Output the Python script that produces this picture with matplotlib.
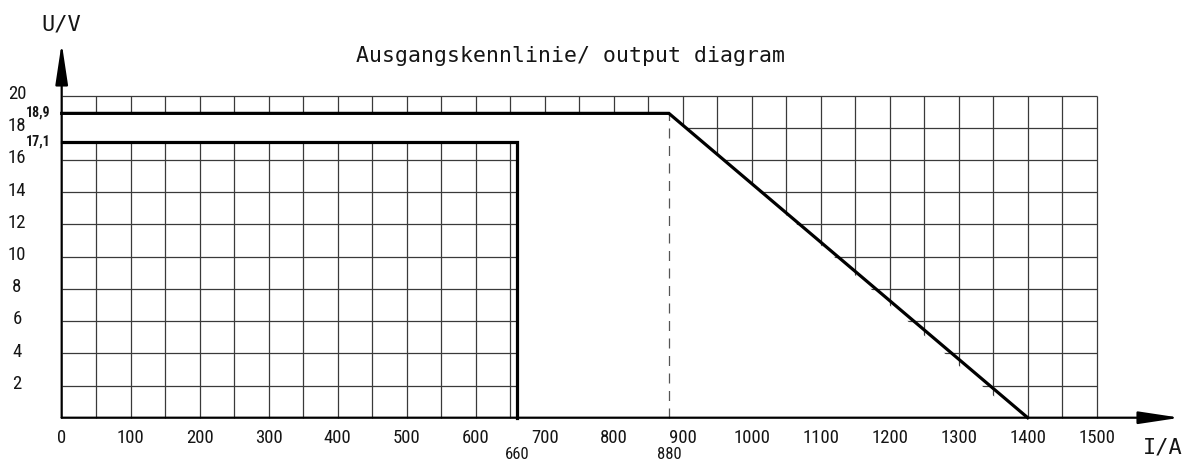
import matplotlib
matplotlib.use("Agg")
import matplotlib.pyplot as plt
from matplotlib import font_manager
from matplotlib.path import Path
from matplotlib.patches import PathPatch

# ---------------- data ----------------
x_tick_values = [0, 100, 200, 300, 400, 500, 600, 700, 800, 900, 1000, 1100, 1200, 1300, 1400, 1500]
y_tick_values = [2, 4, 6, 8, 10, 12, 14, 16, 18, 20]
grid_x = [50 * i for i in range(1, 31)]
grid_y = [2 * i for i in range(1, 11)]

low_curve_x = [0, 660, 660]
low_curve_y = [17.1, 17.1, 0]
high_curve_x = [0, 880, 1400]
high_curve_y = [18.9, 18.9, 0]

voltage_marks = [18.9, 17.1]
voltage_mark_labels = ["18,9", "17,1"]
current_marks = [660, 880]
current_mark_labels = ["660", "880"]

title = "Ausgangskennlinie/ output diagram"
y_label = "U/V"
x_label = "I/A"

# ---------------- fonts ----------------
names = {f.name for f in font_manager.fontManager.ttflist}
narrow = None
for cand in ["Roboto Condensed", "Liberation Sans Narrow", "DejaVu Sans Condensed",
             "Open Sans Condensed"]:
    if cand in names:
        narrow = cand
        break
num_font = narrow if narrow else "DejaVu Sans"
num_size = 13.5 if narrow else 11
mark_size = 12 if narrow else 10
mono = "DejaVu Sans Mono"
text_color = "#151515"

# ---------------- figure ----------------
fig = plt.figure(figsize=(11.84, 4.62), dpi=100)
ax = fig.add_axes([0, 0, 1, 1])
ax.set_xlim(-89.4, 1626.5)
ax.set_ylim(-2.75, 25.94)
ax.axis("off")

# grid clipped to the regions outside the operating area
clip_verts = [
    (-1, 18.9), (1510, 18.9), (1510, 20.4), (-1, 20.4), (-1, 18.9),
    (-1, -0.5), (660, -0.5), (660, 17.1), (-1, 17.1), (-1, -0.5),
    (880, 18.9), (1510, 18.9), (1510, -0.5), (1400, -0.5), (880, 18.9),
]
codes = ([Path.MOVETO] + [Path.LINETO] * 3 + [Path.CLOSEPOLY]) * 3
clip_patch = PathPatch(Path(clip_verts, codes), transform=ax.transData,
                       facecolor="none", edgecolor="none")
ax.add_patch(clip_patch)
vl = ax.vlines(grid_x, 0, 20, colors="#3a3a3a", lw=0.9)
hl = ax.hlines(grid_y, 0, 1500, colors="#3a3a3a", lw=0.9)
vl.set_clip_path(clip_patch)
hl.set_clip_path(clip_patch)

# dashed guide
ax.plot([current_marks[1], current_marks[1]], [0, high_curve_y[1]], color="#555555",
        lw=0.9, ls=(0, (8, 6)))

# curves
ax.plot(low_curve_x, low_curve_y, color="black", lw=2.3, solid_joinstyle="miter")
ax.plot(high_curve_x, high_curve_y, color="black", lw=2.3, solid_joinstyle="miter")

# axes with arrows
arrow_kw = dict(arrowstyle="-|>,head_length=1.26,head_width=0.19", color="black",
                lw=1.6, mutation_scale=20, shrinkA=0, shrinkB=0)
ax.annotate("", xy=(0, 23.27), xytext=(0, 0), arrowprops=arrow_kw)
ax.annotate("", xy=(1620.7, 0), xytext=(0, 0), arrowprops=arrow_kw)

# tick labels
for v in x_tick_values:
    ax.text(v, -1.23, str(v), ha="center", va="center", family=num_font,
            size=num_size, color=text_color)
for v in y_tick_values:
    ax.text(-64.8, v + 0.1, str(v), ha="center", va="center", family=num_font,
            size=num_size, color=text_color)
for v, lab in zip(voltage_marks, voltage_mark_labels):
    ax.text(-33.6, v + 0.05, lab, ha="center", va="center", family=num_font,
            size=10, color=text_color, weight="bold")
for v, lab in zip(current_marks, current_mark_labels):
    ax.text(v, -2.73, lab, ha="center", va="bottom", family=num_font,
            size=mark_size, color=text_color)

ax.text(736.7, 22.47, title, ha="center", va="center", family=mono, size=15.5,
        color=text_color)
ax.text(0, 24.4, y_label, ha="center", va="center", family=mono, size=15.8,
        color=text_color)
ax.text(1596, -1.82, x_label, ha="center", va="center", family=mono, size=15.8,
        color=text_color)

fig.savefig("out.png", dpi=100)
